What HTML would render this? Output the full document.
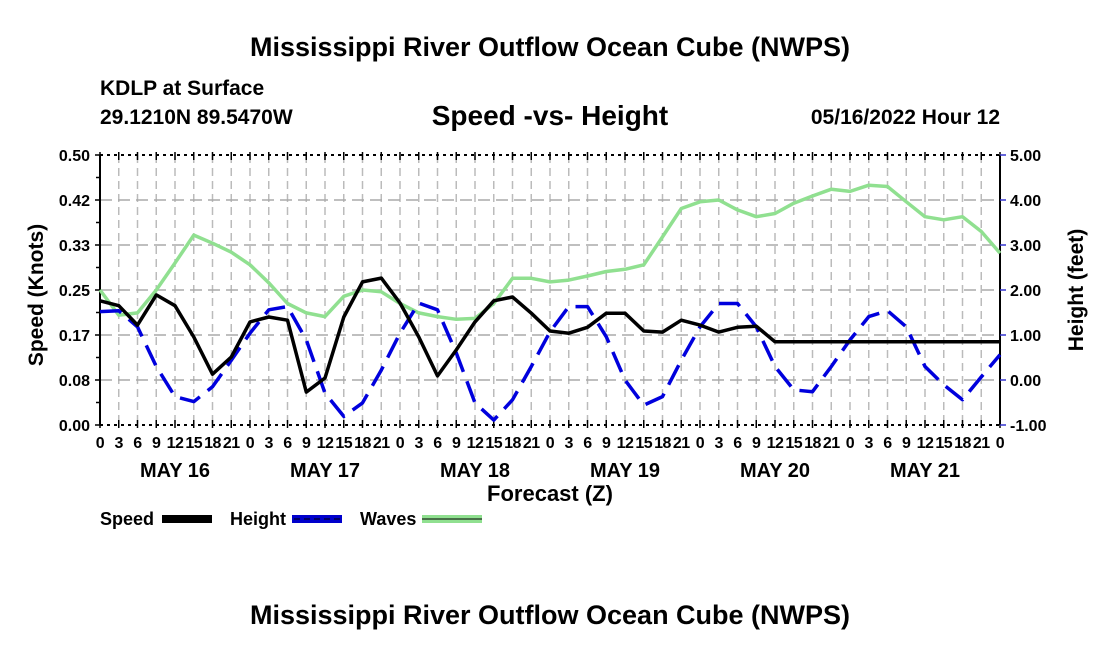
<!DOCTYPE html>
<html><head><meta charset="utf-8"><style>
body{margin:0;background:#fff;width:1100px;height:650px;overflow:hidden}
svg{display:block;font-family:"Liberation Sans",Arial,sans-serif;font-weight:bold}
</style></head><body>
<svg id="c" width="1100" height="650">
<text x="550" y="56" text-anchor="middle" font-size="27">Mississippi River Outflow Ocean Cube (NWPS)</text>
<text x="100" y="95" font-size="21">KDLP at Surface</text>
<text x="100" y="124" font-size="21">29.1210N  89.5470W</text>
<text x="550" y="125" text-anchor="middle" font-size="28">Speed -vs- Height</text>
<text x="1000" y="124" text-anchor="end" font-size="21">05/16/2022 Hour 12</text>
<text x="550" y="501" text-anchor="middle" font-size="22">Forecast (Z)</text>
<text transform="translate(43,295) rotate(-90)" text-anchor="middle" font-size="21">Speed (Knots)</text>
<text transform="translate(1083,290) rotate(-90)" text-anchor="middle" font-size="21">Height (feet)</text>
<g>
<text x="100" y="525" font-size="18">Speed</text>
<rect x="162" y="515" width="50" height="8" fill="#000"/>
<text x="230" y="525" font-size="18">Height</text>
<rect x="292" y="515" width="50" height="8" fill="#00c"/>
<line x1="294" y1="519" x2="342" y2="519" stroke="#000" stroke-width="1" stroke-dasharray="6,4"/>
<text x="360" y="525" font-size="18">Waves</text>
<rect x="422" y="515" width="60" height="8" fill="#90e090"/>
<line x1="422" y1="519" x2="482" y2="519" stroke="#000" stroke-width="1"/>
</g>
<text x="550" y="624" text-anchor="middle" font-size="27">Mississippi River Outflow Ocean Cube (NWPS)</text>
</svg>
<script>
const hourTicks=['0','3','6','9','12','15','18','21'];
const dayLabels=['MAY 16','MAY 17','MAY 18','MAY 19','MAY 20','MAY 21'];
const speedTicks=['0.00','0.08','0.17','0.25','0.33','0.42','0.50'];
const heightTicks=['-1.00','0.00','1.00','2.00','3.00','4.00','5.00'];
const speed=[0.230,0.221,0.185,0.241,0.221,0.163,0.094,0.126,0.191,0.200,0.194,0.061,0.087,0.200,0.265,0.272,0.226,0.163,0.091,0.139,0.191,0.230,0.237,0.207,0.174,0.170,0.181,0.207,0.207,0.174,0.172,0.194,0.185,0.172,0.181,0.183,0.154,0.154,0.154,0.154,0.154,0.154,0.154,0.154,0.154,0.154,0.154,0.154,0.154];
const height=[1.52,1.54,1.18,0.30,-0.37,-0.48,-0.15,0.44,1.04,1.56,1.63,0.89,-0.29,-0.81,-0.51,0.22,1.04,1.71,1.56,0.60,-0.51,-0.89,-0.44,0.30,1.07,1.63,1.63,0.96,0.00,-0.56,-0.37,0.44,1.18,1.70,1.70,1.18,0.30,-0.22,-0.26,0.30,0.89,1.41,1.54,1.18,0.30,-0.11,-0.44,0.07,0.56];
const waves=[2.00,1.44,1.49,2.00,2.60,3.22,3.04,2.84,2.56,2.16,1.70,1.49,1.41,1.86,2.00,1.96,1.70,1.49,1.41,1.35,1.37,1.70,2.26,2.26,2.18,2.22,2.31,2.41,2.46,2.56,3.18,3.81,3.96,4.00,3.78,3.63,3.70,3.93,4.09,4.24,4.19,4.33,4.30,3.96,3.63,3.56,3.63,3.30,2.82];
const L=100,R=1000,T=155,B=425;
const xs=i=>L+(R-L)*i/48;
const ySp=v=>B-(B-T)*v/0.5;
const yHt=v=>B-(B-T)*(v+1)/6;
const svg=document.getElementById('c');
const NS='http://www.w3.org/2000/svg';
function mk(t,a){const e=document.createElementNS(NS,t);for(const k in a)e.setAttribute(k,a[k]);svg.appendChild(e);return e;}
for(let i=1;i<48;i++){const e=mk('line',{x1:xs(i),y1:T,x2:xs(i),y2:B,stroke:'#bbb','stroke-width':1.5,'stroke-dasharray':'8,5'});

}
for(let j=1;j<6;j++){const y=T+(B-T)*j/6;const e=mk('line',{x1:L,y1:y,x2:R,y2:y,stroke:'#aaa','stroke-width':1.5,'stroke-dasharray':'12,6'});

}
[[L,T,R,T,'3,4'],[L,B,R,B,'3,4']].forEach(s=>{const e=mk('line',{x1:s[0],y1:s[1],x2:s[2],y2:s[3],stroke:'#000','stroke-width':2,'stroke-dasharray':s[4]});

});
let e1=mk('line',{x1:L,y1:T,x2:L,y2:B,stroke:'#000','stroke-width':2});


let e2=mk('line',{x1:R,y1:T,x2:R,y2:B,stroke:'#000','stroke-width':2});


for(let i=0;i<=48;i++){
 const t1=mk('line',{x1:xs(i),y1:B-5,x2:xs(i),y2:B+3,stroke:'#000','stroke-width':1.5});
 
 
 const t2=mk('line',{x1:xs(i),y1:T-3,x2:xs(i),y2:T+5,stroke:'#000','stroke-width':1.5});
 
 
 const tx=mk('text',{x:xs(i),y:B+23,'text-anchor':'middle','font-size':16,'letter-spacing':-0.5});
 tx.textContent=hourTicks[i%8];
 
 
}
dayLabels.forEach((d,k)=>{const t=mk('text',{x:xs(k*8+4),y:B+52,'text-anchor':'middle','font-size':20});t.textContent=d;

});
for(let j=0;j<7;j++){const y=B-(B-T)*j/6;
 const a=mk('line',{x1:L-5,y1:y,x2:L,y2:y,stroke:'#000','stroke-width':1.5});
 
 
 const t=mk('text',{x:L-10,y:y+6,'text-anchor':'end','font-size':16});t.textContent=speedTicks[j];
 
 
 const b=mk('line',{x1:R,y1:y,x2:R+6,y2:y,stroke:'#33c','stroke-width':1.5});
 
 
 const t2=mk('text',{x:R+10,y:y+6,'font-size':16});t2.textContent=heightTicks[j];
 
 
 if(j<6){const m=mk('line',{x1:L-4,y1:y-22.5,x2:L,y2:y-22.5,stroke:'#000','stroke-width':1.5});
 
 }
}
function path(arr,f){return arr.map((v,i)=>(i?'L':'M')+xs(i).toFixed(1)+' '+f(v).toFixed(1)).join(' ');}
const w=mk('path',{d:path(waves,yHt),fill:'none',stroke:'#90e090','stroke-width':3.5,'stroke-linejoin':'round'});


const h=mk('path',{d:path(height,yHt),fill:'none',stroke:'#0000dd','stroke-width':3.5,'stroke-dasharray':'22,10','stroke-linejoin':'round'});


const s=mk('path',{d:path(speed,ySp),fill:'none',stroke:'#000','stroke-width':3.5,'stroke-linejoin':'round'});


</script>
</body></html>
